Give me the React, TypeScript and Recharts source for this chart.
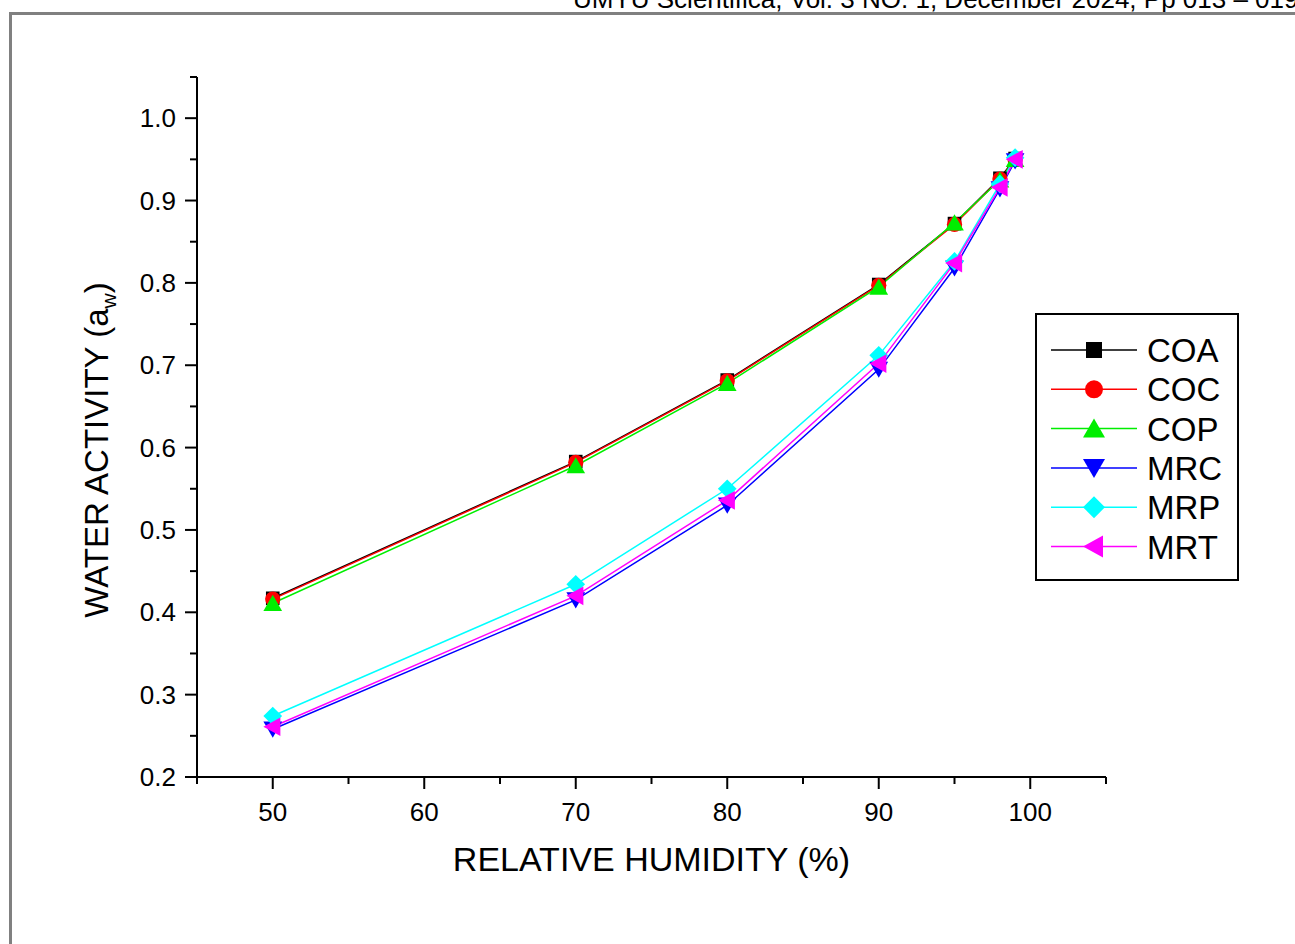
import { LineChart, Line, XAxis, YAxis } from 'recharts';

const humidity = [50, 70, 80, 90, 95, 98, 99];
const coa = [0.417, 0.583, 0.682, 0.798, 0.872, 0.927, 0.951];
const coc = [0.416, 0.582, 0.681, 0.797, 0.871, 0.926, 0.95];
const cop = [0.411, 0.578, 0.678, 0.795, 0.873, 0.925, 0.95];
const mrc = [0.258, 0.415, 0.53, 0.695, 0.818, 0.914, 0.948];
const mrp = [0.274, 0.434, 0.55, 0.712, 0.826, 0.92, 0.952];
const mrt = [0.261, 0.42, 0.536, 0.702, 0.824, 0.916, 0.95];

const xTicks = [45, 50, 55, 60, 65, 70, 75, 80, 85, 90, 95, 100, 105];
const xLabels = [50, 60, 70, 80, 90, 100];
const yTicks = [0.2, 0.25, 0.3, 0.35, 0.4, 0.45, 0.5, 0.55, 0.6, 0.65, 0.7, 0.75, 0.8, 0.85, 0.9, 0.95, 1.0, 1.05];
const yLabels = [0.2, 0.3, 0.4, 0.5, 0.6, 0.7, 0.8, 0.9, 1.0];

const series = [
  { key: 'COA', values: coa, color: '#000000', shape: 'square' },
  { key: 'COC', values: coc, color: '#ff0000', shape: 'circle' },
  { key: 'COP', values: cop, color: '#00ee00', shape: 'up' },
  { key: 'MRC', values: mrc, color: '#0000ff', shape: 'down' },
  { key: 'MRP', values: mrp, color: '#00ffff', shape: 'diamond' },
  { key: 'MRT', values: mrt, color: '#ff00ff', shape: 'left' },
];

const data = humidity.map((h, i) => {
  const row: Record<string, number> = { rh: h };
  series.forEach((s) => (row[s.key] = s.values[i]));
  return row;
});

const FONT = 'Arial, "Liberation Sans", sans-serif';

function markerShape(shape: string, cx: number, cy: number, color: string, s = 1) {
  if (shape === 'square') return <rect x={cx - 8 * s} y={cy - 8 * s} width={16 * s} height={16 * s} fill={color} />;
  if (shape === 'circle') return <circle cx={cx} cy={cy} r={9 * s} fill={color} />;
  let pts = '';
  if (shape === 'up') pts = `${cx},${cy - 10 * s} ${cx + 11 * s},${cy + 9 * s} ${cx - 11 * s},${cy + 9 * s}`;
  if (shape === 'down') pts = `${cx},${cy + 10 * s} ${cx + 11 * s},${cy - 9 * s} ${cx - 11 * s},${cy - 9 * s}`;
  if (shape === 'left') pts = `${cx - 11 * s},${cy} ${cx + 9 * s},${cy - 11 * s} ${cx + 9 * s},${cy + 11 * s}`;
  if (shape === 'diamond') pts = `${cx},${cy - 11 * s} ${cx + 11 * s},${cy} ${cx},${cy + 11 * s} ${cx - 11 * s},${cy}`;
  return <polygon points={pts} fill={color} />;
}

const XTick = (props: any) => {
  const { x, y, payload } = props;
  const major = xLabels.includes(payload.value);
  return (
    <g>
      <line x1={x} x2={x} y1={y} y2={y + (major ? 12 : 7)} stroke="#000" strokeWidth={2} />
      {major && (
        <text x={x} y={y + 44} textAnchor="middle" fontSize={26} fontFamily={FONT} fill="#000">
          {payload.value}
        </text>
      )}
    </g>
  );
};

const YTick = (props: any) => {
  const { x, y, payload } = props;
  const major = yLabels.some((v) => Math.abs(v - payload.value) < 1e-6);
  return (
    <g>
      <line x1={x} x2={x - (major ? 12 : 7)} y1={y} y2={y} stroke="#000" strokeWidth={2} />
      {major && (
        <text x={x - 21} y={y + 9} textAnchor="end" fontSize={26} fontFamily={FONT} fill="#000">
          {payload.value.toFixed(1)}
        </text>
      )}
    </g>
  );
};

const LegendBox = () => (
  <svg width={204} height={268} style={{ display: 'block' }}>
    <rect x={1} y={1} width={202} height={266} fill="#fff" stroke="#000" strokeWidth={2} />
    {series.map((s, i) => {
      const cy = 37 + i * 39.3;
      return (
        <g key={s.key}>
          <line x1={16} x2={102} y1={cy} y2={cy} stroke={s.color} strokeWidth={1.5} />
          {markerShape(s.shape, 59, cy, s.color)}
          <text x={112} y={cy + 12} fontSize={33} fontFamily={FONT} fill="#000">
            {s.key}
          </text>
        </g>
      );
    })}
  </svg>
);

export default function App() {
  return (
    <div style={{ position: 'absolute', left: 0, top: 0, width: 1295, height: 944, background: '#fff', overflow: 'hidden' }}>
      <div
        style={{
          position: 'absolute',
          left: 573,
          top: -14,
          fontSize: 26,
          lineHeight: '26px',
          fontFamily: FONT,
          whiteSpace: 'nowrap',
          color: '#000',
        }}
      >
        UMYU Scientifica, Vol. 3 NO. 1, December 2024, Pp 013 – 019
      </div>
      <div
        style={{
          position: 'absolute',
          left: 9,
          top: 12,
          width: 1400,
          height: 1000,
          borderTop: '3px solid #808080',
          borderLeft: '3px solid #808080',
        }}
      />
      <div style={{ position: 'absolute', left: 0, top: 0 }}>
        <LineChart width={1295} height={944} data={data} margin={{ top: 77, right: 189, bottom: 107, left: 137 }}>
          <XAxis
            dataKey="rh"
            type="number"
            domain={[45, 105]}
            ticks={xTicks}
            interval={0}
            tick={<XTick />}
            tickLine={false}
            tickSize={0}
            tickMargin={0}
            height={60}
            axisLine={{ stroke: '#000', strokeWidth: 2 }}
            label={{
              value: 'RELATIVE HUMIDITY (%)',
              position: 'insideBottom',
              offset: -34,
              fontSize: 34,
              fontFamily: FONT,
              fill: '#000',
            }}
          />
          <YAxis
            type="number"
            domain={[0.2, 1.05]}
            ticks={yTicks}
            interval={0}
            tick={<YTick />}
            tickLine={false}
            tickSize={0}
            tickMargin={0}
            width={60}
            axisLine={{ stroke: '#000', strokeWidth: 2 }}
            label={{
              content: () => (
                <text
                  x={108}
                  y={450}
                  transform="rotate(-90 108 450)"
                  textAnchor="middle"
                  fontSize={33}
                  fontFamily={FONT}
                  fill="#000"
                >
                  WATER ACTIVITY (a
                  <tspan fontSize={21} dy={8}>w</tspan>
                  <tspan dy={-8}>)</tspan>
                </text>
              ),
            }}
          />
          {series.map((s) => (
            <Line
              key={s.key}
              dataKey={s.key}
              type="linear"
              stroke={s.color}
              strokeWidth={1.5}
              isAnimationActive={false}
              dot={(p: any) => <g key={`${s.key}-${p.index}`}>{markerShape(s.shape, p.cx, p.cy, s.color, 0.85)}</g>}
              activeDot={false}
            />
          ))}
        </LineChart>
      </div>
      <div style={{ position: 'absolute', left: 1035, top: 313 }}>
        <LegendBox />
      </div>
    </div>
  );
}
